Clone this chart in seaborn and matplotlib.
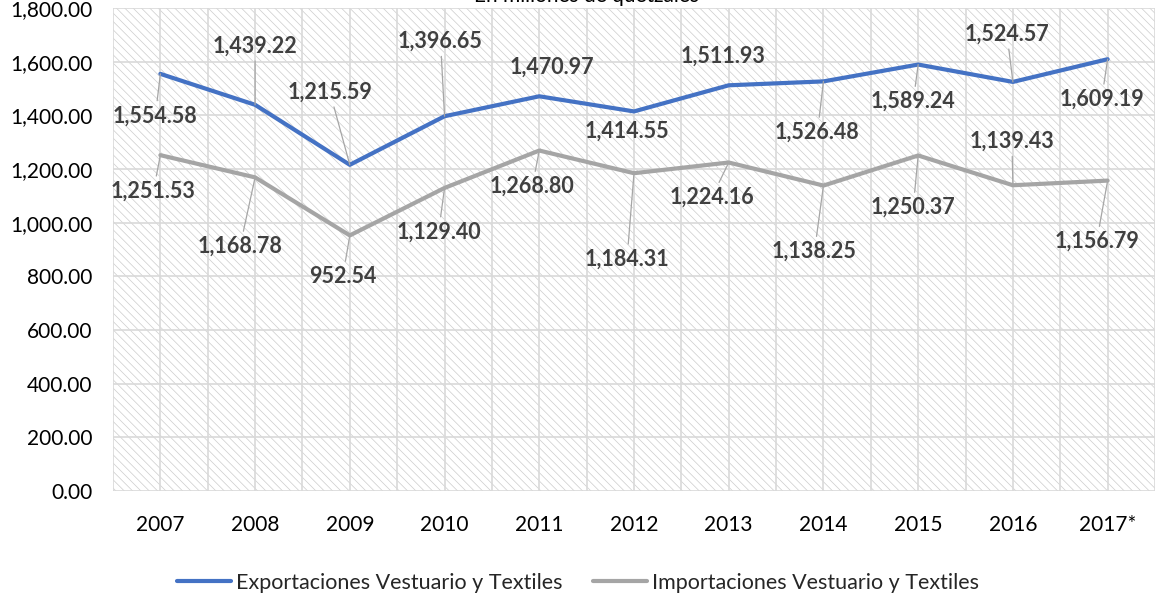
import matplotlib
matplotlib.use('Agg')
import matplotlib.pyplot as plt
from matplotlib.patches import Rectangle
from matplotlib.ticker import FuncFormatter, MultipleLocator
import seaborn as sns
import pandas as pd

# data
years = ['2007', '2008', '2009', '2010', '2011', '2012', '2013', '2014', '2015', '2016', '2017*']
exportaciones = [1554.58, 1439.22, 1215.59, 1396.65, 1470.97, 1414.55,
                 1511.93, 1526.48, 1589.24, 1524.57, 1609.19]
importaciones = [1251.53, 1168.78, 952.54, 1129.40, 1268.80, 1184.31,
                 1224.16, 1138.25, 1250.37, 1139.43, 1156.79]
serie_exp = 'Exportaciones Vestuario y Textiles'
serie_imp = 'Importaciones Vestuario y Textiles'

# label offsets (pixels) from each point, and whether a leader line shows
exp_dx = [-5, 0, -20, -4, 13, -7, -6, -6, -5, -6, -6]
exp_dy = [-42, 59, 73, 75, 29, -20, 29, -51, -37, 48, -40]
exp_leader = [True, True, True, True, False, False, False, True, True, True, True]
imp_dx = [-7, -15, -7, -6, -7, -7, -17, -9, -5, -1, -11]
imp_dy = [-36, -69, -41, -44, -36, -86, -35, -66, -52, 44, -61]
imp_leader = [True] * 11

BLUE = '#4472C4'
GRAY = '#A5A5A5'
LABEL = '#404040'

sns.set_theme(style='white')
plt.rcParams['font.family'] = ['Lato', 'DejaVu Sans']
plt.rcParams['hatch.linewidth'] = 0.5

df = pd.DataFrame({
    'anio': years * 2,
    'valor': exportaciones + importaciones,
    'serie': [serie_exp] * len(years) + [serie_imp] * len(years),
})

fig = plt.figure(figsize=(11.56, 5.97), dpi=100)
W, H = 1156, 597
ax = fig.add_axes([113 / W, 1 - 491 / H, 1042 / W, 483 / H])

# hatched plot area background
bg = Rectangle((0, 0), 1, 1, transform=ax.transAxes, facecolor='white',
               edgecolor='#cccccc', linewidth=0, hatch='\\\\\\\\', zorder=0)
ax.add_patch(bg)
ax.patch.set_visible(False)

sns.lineplot(data=df, x='anio', y='valor', hue='serie', sort=False,
             palette={serie_exp: BLUE, serie_imp: GRAY}, linewidth=3,
             ax=ax, zorder=3)

ax.set_xlim(-0.5, len(years) - 0.5)
ax.set_ylim(0, 1800)
ax.yaxis.set_major_locator(MultipleLocator(200))
ax.yaxis.set_major_formatter(FuncFormatter(lambda v, p: f'{v:,.2f}'))
ax.xaxis.set_minor_locator(MultipleLocator(0.5))
ax.grid(True, which='major', color='#d9d9d9', linewidth=1.2, zorder=1)
ax.grid(True, which='minor', axis='x', color='#d9d9d9', linewidth=1.2, zorder=1)
ax.set_axisbelow(True)
for s in ax.spines.values():
    s.set_visible(False)
ax.set_xlabel('')
ax.set_ylabel('')
ax.tick_params(axis='x', which='both', length=0, pad=17, labelsize=15, labelcolor='#000000')
ax.tick_params(axis='y', length=0, pad=15, labelsize=15, labelcolor='#000000')

# data labels
def add_labels(values, dxs, dys, leaders):
    for i, v in enumerate(values):
        arrow = dict(arrowstyle='-', color='#a6a6a6', lw=0.9, shrinkA=1, shrinkB=0) if leaders[i] else None
        ax.annotate(f'{v:,.2f}', xy=(i, v), xytext=(dxs[i], dys[i]),
                    textcoords='offset pixels', ha='center', va='center',
                    fontsize=15.5, fontweight='bold', color=LABEL,
                    arrowprops=arrow, zorder=4)

add_labels(exportaciones, exp_dx, exp_dy, exp_leader)
add_labels(importaciones, imp_dx, imp_dy, imp_leader)

# title (cut off at the top in the original)
fig.text(586 / W, 1 - 2 / H, 'En millones de quetzales', ha='center',
         va='baseline', fontsize=15, color='#000000')

handles, labels = ax.get_legend_handles_labels()
ax.get_legend().remove()
fig.legend(handles, labels, loc='center', bbox_to_anchor=(578 / W, 1 - 583 / H),
           ncol=2, frameon=False, fontsize=15.5, handlelength=2.5,
           handletextpad=0.25, columnspacing=1.4)

fig.savefig('out.png', dpi=100)
